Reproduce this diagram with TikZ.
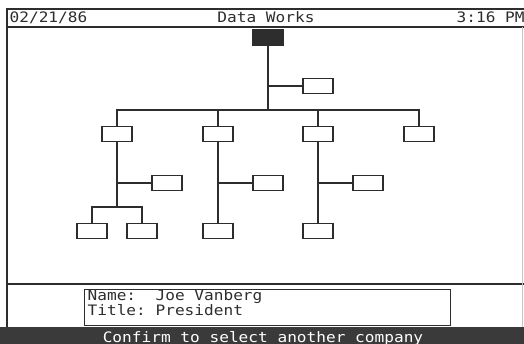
\documentclass[tikz,border=0pt]{standalone}
\usepackage{fontspec}
\newfontfamily\crtfont[FakeStretch=1.12]{DejaVu Sans Mono}
\definecolor{ink}{RGB}{45,45,45}
\definecolor{bargray}{RGB}{58,58,58}
\definecolor{edgegray}{RGB}{200,200,200}

\begin{document}
\begin{tikzpicture}[x=1pt,y=-1pt,line width=1.3pt,draw=ink,
    unit/.style={rectangle,draw=ink,minimum width=30pt,minimum height=15pt,inner sep=0pt},
    chief/.style={unit,fill=ink},
    screentext/.style={font=\crtfont\fontsize{14.4}{16}\selectfont,text=ink,inner sep=0pt}]
    \useasboundingbox (0,0) rectangle (524,344);
    \clip (0,0) rectangle (524,344);

    % Screen frame
    \fill[bargray] (0,327) rectangle (524,344);
    \draw (7,327) -- (7,9) -- (524,9);
    \draw (7,27) -- (524,27);
    \draw (7,284) -- (524,284);
    \draw[edgegray,line width=0.8pt] (522,27) -- (522,327);

    % Header
    \node[screentext,anchor=base west] (date) at (9,23) {02/21/86};
    \node[screentext,anchor=base] (title) at (266,23) {Data Works};
    \node[screentext,anchor=base west] (clock) at (456,23) {3:16 PM};

    % Org chart
    \node[chief] at (268,37.5) (root) {};
    \node[unit] at (318,86) (staff) {};
    \node[unit] at (117,134) (divA) {};
    \node[unit] at (218,134) (divB) {};
    \node[unit] at (318,134) (divC) {};
    \node[unit] at (419,134) (divD) {};
    \node[unit] at (167,183) (asstA) {};
    \node[unit] at (268,183) (asstB) {};
    \node[unit] at (368,183) (asstC) {};
    \node[unit] at (92,231) (deptA1) {};
    \node[unit] at (142,231) (deptA2) {};
    \node[unit] at (218,231) (deptB) {};
    \node[unit] at (318,231) (deptC) {};

    \coordinate (bus) at (268,110);
    \coordinate (forkA) at (117,207);

    % Connectors
    \draw (root) -- (bus);
    \draw (staff) -- (staff -| root);
    \draw (divA) -- (divA |- bus) -- (divD |- bus) -- (divD);
    \draw (divB) -- (divB |- bus);
    \draw (divC) -- (divC |- bus);
    \draw (divA) -- (forkA);
    \draw (asstA) -- (asstA -| divA);
    \draw (deptA1) -- (deptA1 |- forkA) -- (deptA2 |- forkA) -- (deptA2);
    \draw (divB) -- (deptB);
    \draw (asstB) -- (asstB -| divB);
    \draw (divC) -- (deptC);
    \draw (asstC) -- (asstC -| divC);

    % Info panel
    \node[draw=ink,anchor=north west,minimum width=366pt,minimum height=36pt,inner sep=0pt] at (84,289) (info) {};
    \node[screentext,anchor=base west] at (87,300) (name) {Name:\ \ Joe Vanberg};
    \node[screentext,anchor=base west] at (87,316) (rank) {Title:\ President};

    % Prompt
    \node[screentext,text=white,anchor=base] at (263,342) (prompt) {Confirm to select another company};
\end{tikzpicture}
\end{document}
